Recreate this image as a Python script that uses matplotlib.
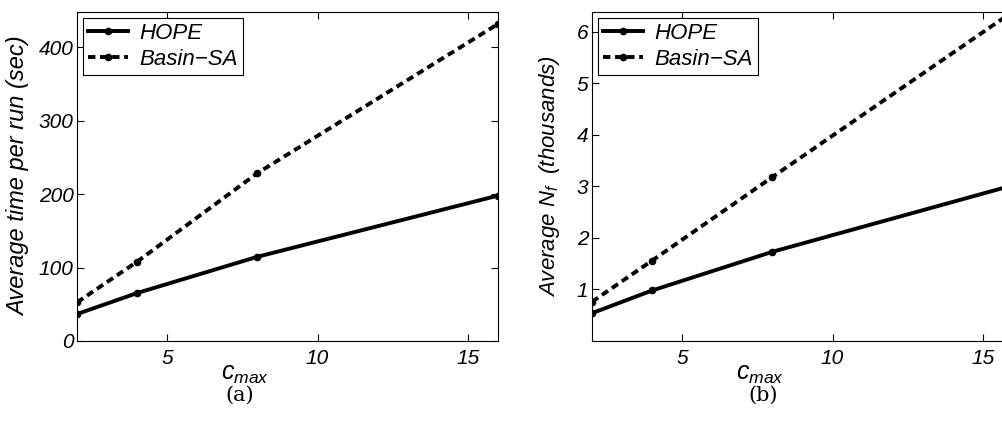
import matplotlib
matplotlib.use('Agg')
import matplotlib.pyplot as plt

plt.rcParams['font.family'] = ['Liberation Sans', 'DejaVu Sans']
plt.rcParams['font.style'] = 'italic'
plt.rcParams['mathtext.fontset'] = 'custom'
plt.rcParams['mathtext.it'] = 'Liberation Sans:italic'
plt.rcParams['mathtext.rm'] = 'Liberation Sans:italic'

# datos
cmax = [2, 4, 8, 16]
hope_time = [36.7, 65.3, 114.7, 198]
basin_time = [52.6, 108, 228.6, 431.7]
hope_nf = [0.54, 0.98, 1.73, 3.02]
basin_nf = [0.76, 1.56, 3.18, 6.39]

W, H = 1003, 432
fig = plt.figure(figsize=(W / 100, H / 100), dpi=100)

def panel(rect, y1, y2, ylim, yticks, ylabel, ylsize, caption, capx, ylx):
    ax = fig.add_axes(rect)
    ax.plot(cmax, y1, 'k-', lw=2.8, marker='.', ms=9, label='HOPE')
    ax.plot(cmax, y2, 'k--', lw=2.8, marker='.', ms=9, dashes=(1.9, 1.2), label='Basin\u2212SA')
    ax.set_xlim(2, 16)
    ax.set_ylim(*ylim)
    ax.set_xticks([5, 10, 15])
    ax.set_yticks(yticks)
    ax.tick_params(direction='in', top=True, right=True, labelsize=15, length=5, width=0.8)
    ax.tick_params(axis='x', pad=6)
    ax.tick_params(axis='y', pad=2.5)
    ax.set_ylabel(ylabel, fontsize=ylsize)
    ax.yaxis.set_label_coords(ylx, 0.5)
    ax.set_xlabel(r'$c_{max}$', fontsize=18, labelpad=0)
    ax.xaxis.set_label_coords(0.4, -0.063)
    leg = ax.legend(loc='upper left', prop={'style': 'italic', 'size': 16},
                    handlelength=1.8, borderpad=0.25, labelspacing=0.2,
                    fancybox=False, edgecolor='k', framealpha=1,
                    borderaxespad=0.25, handletextpad=0.5)
    leg.get_frame().set_linewidth(0.8)
    fig.text(capx, 1 - 395 / H, caption, ha='center', va='center', fontsize=15,
             family='DejaVu Serif', style='normal')
    return ax

panel([77 / W, 1 - 341 / H, 421 / W, 329 / H], hope_time, basin_time,
      (0, 448), [0, 100, 200, 300, 400], 'Average time per run (sec)', 17,
      '(a)', 240 / W, -0.112)
panel([592 / W, 1 - 341 / H, 421 / W, 329 / H], hope_nf, basin_nf,
      (0, 6.38), [1, 2, 3, 4, 5, 6], 'Average $N_f$  (thousands)', 16,
      '(b)', 763 / W, -0.071)

fig.savefig('out.png', dpi=100)
